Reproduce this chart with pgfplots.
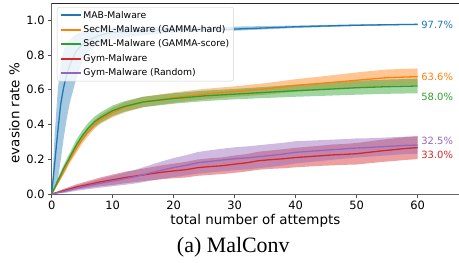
\documentclass[border=0pt]{standalone}
\usepackage{pgfplots}
\pgfplotsset{compat=1.18}
\usepackage{pgfplotstable}
\usepgfplotslibrary{fillbetween}
\usepackage{fontspec}
\setmainfont{DejaVu Sans}
\newfontfamily\capfont{Liberation Serif}
\definecolor{c0}{HTML}{1F77B4}
\definecolor{c1}{HTML}{FF7F0E}
\definecolor{c2}{HTML}{2CA02C}
\definecolor{c3}{HTML}{D62728}
\definecolor{c4}{HTML}{9467BD}

\pgfplotstableread{
x y lo hi
0 0 0 0
0.5 0.18 0.03 0.35
1 0.36 0.08 0.6
1.5 0.52 0.2 0.75
2 0.62 0.33 0.83
2.5 0.69 0.44 0.87
3 0.745 0.53 0.89
4 0.82 0.66 0.92
5 0.86 0.76 0.935
6 0.885 0.82 0.945
8 0.915 0.87 0.955
10 0.93 0.89 0.96
15 0.94 0.915 0.962
20 0.945 0.928 0.963
30 0.95 0.94 0.964
40 0.963 0.956 0.97
50 0.972 0.967 0.977
60 0.977 0.974 0.98
}\mab

\pgfplotstableread{
x y s
0 0 0
1 0.065 0.01
2 0.13 0.015
3 0.2 0.02
4 0.26 0.025
5 0.315 0.025
6 0.36 0.025
7 0.4 0.025
8 0.43 0.025
10 0.47 0.028
12 0.5 0.03
15 0.53 0.03
20 0.555 0.03
25 0.575 0.03
30 0.59 0.03
35 0.605 0.033
40 0.625 0.036
45 0.64 0.04
50 0.655 0.045
55 0.67 0.047
60 0.676 0.047
}\hard

\pgfplotstableread{
x y s
0 0 0
1 0.075 0.015
2 0.15 0.02
3 0.215 0.025
4 0.28 0.03
5 0.335 0.03
6 0.38 0.03
7 0.415 0.03
8 0.44 0.03
10 0.48 0.03
12 0.505 0.03
15 0.53 0.03
20 0.55 0.03
25 0.565 0.03
30 0.575 0.03
35 0.585 0.032
40 0.595 0.035
45 0.603 0.037
50 0.612 0.04
55 0.618 0.041
60 0.622 0.042
}\score

\pgfplotstableread{
x y s
0 0 0
2 0.02 0.01
4 0.04 0.015
6 0.055 0.02
8 0.07 0.025
10 0.082 0.03
12 0.095 0.033
14 0.105 0.035
16 0.115 0.037
18 0.125 0.04
20 0.133 0.042
22 0.14 0.045
24 0.152 0.047
26 0.158 0.048
28 0.163 0.048
30 0.172 0.05
32 0.18 0.05
34 0.192 0.052
36 0.198 0.053
38 0.203 0.055
40 0.21 0.056
42 0.215 0.057
44 0.22 0.058
46 0.225 0.06
48 0.228 0.06
50 0.232 0.062
52 0.24 0.063
54 0.248 0.064
56 0.255 0.065
58 0.262 0.066
60 0.267 0.066
}\gym

\pgfplotstableread{
x y s
0 0 0
2 0.015 0.01
4 0.033 0.015
6 0.048 0.02
8 0.062 0.025
10 0.075 0.03
12 0.088 0.035
14 0.102 0.04
16 0.12 0.045
18 0.137 0.05
20 0.152 0.055
22 0.165 0.058
24 0.18 0.062
26 0.188 0.064
28 0.196 0.065
30 0.203 0.066
32 0.208 0.066
34 0.215 0.066
36 0.222 0.066
38 0.23 0.065
40 0.24 0.064
42 0.245 0.062
44 0.25 0.06
46 0.255 0.058
48 0.26 0.056
50 0.265 0.055
52 0.268 0.053
54 0.272 0.052
56 0.276 0.051
58 0.28 0.05
60 0.282 0.05
}\gymr

\begin{document}
\begin{tikzpicture}
\begin{axis}[
  name=ax,
  scale only axis, width=407.3bp, height=191bp,
  xmin=0, xmax=66.8, ymin=0, ymax=1.1,
  clip=false,
  axis x line*=bottom, axis y line*=left,
  axis line style={draw=black!60, line width=0.9bp, -},
  xtick={0,10,20,30,40,50,60},
  ytick={0,0.2,0.4,0.6,0.8,1.0},
  yticklabel style={/pgf/number format/.cd, fixed, fixed zerofill, precision=1},
  /pgf/number format/assume math mode=true,
  tick align=outside, major tick length=3.5bp,
  tick style={draw=black!70, line width=0.8bp},
  xtick pos=bottom, ytick pos=left,
  ticklabel style={font=\fontsize{11.5}{12}\selectfont},
  label style={font=\fontsize{13.5}{14}\selectfont},
  xlabel={total number of attempts},
  ylabel={evasion rate \%},
  ylabel style={at={(ticklabel cs:0.424)}},
  xlabel style={yshift=2bp},
  legend style={at={(rel axis cs:0.013,0.979)}, anchor=north west,
    draw=black!18, rounded corners=2.5bp, fill=white, fill opacity=0.8,
    text opacity=1, font=\fontsize{9.3}{11}\selectfont,
    nodes={font=\fontsize{9.3}{11}\selectfont, inner sep=1.8bp},
    row sep=2.3bp, inner xsep=2.5bp, inner ysep=2bp,
    cells={anchor=west}},
  legend image code/.code={\draw[#1, line width=1.9bp] (0bp,0bp) -- (20bp,0bp);},
]
% bands
\addplot[draw=none, name path=mabhi, forget plot] table[x=x, y=hi] {\mab};
\addplot[draw=none, name path=mablo, forget plot] table[x=x, y=lo] {\mab};
\addplot[fill=c0, fill opacity=0.4, draw=none, forget plot] fill between[of=mabhi and mablo];

\addplot[draw=none, name path=hhi, forget plot] table[x=x, y expr=\thisrow{y}+\thisrow{s}] {\hard};
\addplot[draw=none, name path=hlo, forget plot] table[x=x, y expr=\thisrow{y}-\thisrow{s}] {\hard};
\addplot[fill=c1, fill opacity=0.45, draw=none, forget plot] fill between[of=hhi and hlo];

\addplot[draw=none, name path=shi, forget plot] table[x=x, y expr=\thisrow{y}+\thisrow{s}] {\score};
\addplot[draw=none, name path=slo, forget plot] table[x=x, y expr=\thisrow{y}-\thisrow{s}] {\score};
\addplot[fill=c2, fill opacity=0.45, draw=none, forget plot] fill between[of=shi and slo];

\addplot[draw=none, name path=ghi, forget plot] table[x=x, y expr=\thisrow{y}+\thisrow{s}] {\gym};
\addplot[draw=none, name path=glo, forget plot] table[x=x, y expr=\thisrow{y}-\thisrow{s}] {\gym};
\addplot[fill=c3, fill opacity=0.45, draw=none, forget plot] fill between[of=ghi and glo];

\addplot[draw=none, name path=rhi, forget plot] table[x=x, y expr=\thisrow{y}+\thisrow{s}] {\gymr};
\addplot[draw=none, name path=rlo, forget plot] table[x=x, y expr=\thisrow{y}-\thisrow{s}] {\gymr};
\addplot[fill=c4, fill opacity=0.45, draw=none, forget plot] fill between[of=rhi and rlo];

% lines
\addplot[c0, line width=1.3bp, smooth, tension=0.3] table[x=x, y=y] {\mab};
\addlegendentry{MAB-Malware}
\addplot[c1, line width=1.3bp] table[x=x, y=y] {\hard};
\addlegendentry{SecML-Malware (GAMMA-hard)}
\addplot[c2, line width=1.3bp] table[x=x, y=y] {\score};
\addlegendentry{SecML-Malware (GAMMA-score)}
\addplot[c3, line width=1.3bp] table[x=x, y=y] {\gym};
\addlegendentry{Gym-Malware}
\addplot[c4, line width=1.3bp] table[x=x, y=y] {\gymr};
\addlegendentry{Gym-Malware (Random)}

\draw[black!85, line width=0.9bp] (rel axis cs:0,1) -- (rel axis cs:1,1);

\node[c0, anchor=west, inner sep=0pt, font=\fontsize{10}{10}\selectfont] at (axis cs:60.6,0.974) {97.7\%};
\node[c1, anchor=west, inner sep=0pt, font=\fontsize{10}{10}\selectfont] at (axis cs:60.6,0.674) {63.6\%};
\node[c2, anchor=west, inner sep=0pt, font=\fontsize{10}{10}\selectfont] at (axis cs:60.6,0.559) {58.0\%};
\node[c4, anchor=west, inner sep=0pt, font=\fontsize{10}{10}\selectfont] at (axis cs:60.6,0.305) {32.5\%};
\node[c3, anchor=west, inner sep=0pt, font=\fontsize{10}{10}\selectfont] at (axis cs:60.6,0.225) {33.0\%};
\end{axis}
\path (ax.south west) ++(181.6bp,-58bp) node[anchor=base, inner sep=0pt, font=\capfont\fontsize{22}{22}\selectfont] {(a) MalConv};
\pgfresetboundingbox
\path[use as bounding box] (ax.south west) ++(-51.7bp,-69bp) rectangle ([xshift=0bp,yshift=3bp]ax.north east);
\end{tikzpicture}
\end{document}
